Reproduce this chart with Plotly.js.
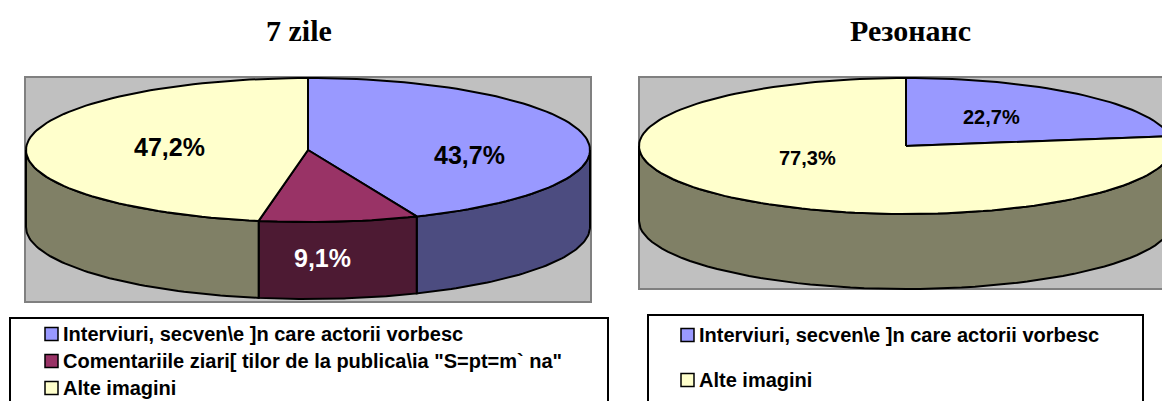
<!DOCTYPE html>
<html>
<head>
<meta charset="utf-8">
<script src="https://cdn.plot.ly/plotly-3.0.1.min.js"></script>
<style>html,body{margin:0;padding:0;background:#fff;}</style>
</head>
<body>
<div id="chart" style="width:1162px;height:401px;"></div>
<script>
// ---- data ----
const title7 = "7 zile";
const categories7 = ["Interviuri, secven\\e ]n care actorii vorbesc", "Comentariile ziari[ tilor de la publica\\ia \"S=pt=m` na\"", "Alte imagini"];
const values7 = [43.7, 9.1, 47.2];
const titleRez = "Резонанс";
const categoriesRez = ["Interviuri, secven\\e ]n care actorii vorbesc", "Alte imagini"];
const valuesRez = [22.7, 77.3];

// ---- styles ----
const topColors = {
  "Interviuri, secven\\e ]n care actorii vorbesc": "#9999FF",
  "Comentariile ziari[ tilor de la publica\\ia \"S=pt=m` na\"": "#993366",
  "Alte imagini": "#FFFFCC"
};
const sideColors = {
  "Interviuri, secven\\e ]n care actorii vorbesc": "#4C4C80",
  "Comentariile ziari[ tilor de la publica\\ia \"S=pt=m` na\"": "#4D1A33",
  "Alte imagini": "#808066"
};

const pies = [
  {title: title7, cats: categories7, vals: values7, cx: 308, cy: 150, rx: 282, ry: 72, depth: 77,
   bg: [25, 77, 591, 302], titleX: 299, labelSize: 25, labelOff: [[9, 13], [-16, -2], [16, 0]],
   legBox: [10, 318, 608, 420], legSw: 45, legY0: 334, legDy: 27},
  {title: titleRez, cats: categoriesRez, vals: valuesRez, cx: 906, cy: 146, rx: 267, ry: 68, depth: 75,
   bg: [639, 77, 1175, 289], titleX: 910, labelSize: 20, labelOff: [[-11, -1], [-2, -16]],
   legBox: [648, 315, 1143, 420], legSw: 681, legY0: 335, legDy: 45}
];

const traces = [];
const shapes = [];
const annotations = [];
const deg = Math.PI / 180;

function pt(p, a, dy) { return [p.cx + p.rx * Math.sin(a * deg), p.cy - p.ry * Math.cos(a * deg) + (dy || 0)]; }

pies.forEach(p => {
  const total = p.vals.reduce((s, v) => s + v, 0);
  let a = 0;
  const slices = p.vals.map((v, i) => { const a0 = a; a += v / total * 360; return {a0, a1: a, v, cat: p.cats[i]}; });

  // background panel
  shapes.push({type: 'rect', xref: 'x', yref: 'y', x0: p.bg[0], y0: p.bg[1], x1: p.bg[2], y1: p.bg[3],
    fillcolor: '#C0C0C0', line: {color: '#808080', width: 2}, layer: 'below'});

  // side walls (front half 90..270)
  slices.forEach(s => {
    const s0 = Math.max(s.a0, 90), s1 = Math.min(s.a1, 270);
    if (s1 <= s0) return;
    const xs = [], ys = [];
    const n = 60;
    for (let k = 0; k <= n; k++) { const q = pt(p, s0 + (s1 - s0) * k / n); xs.push(q[0]); ys.push(q[1]); }
    for (let k = n; k >= 0; k--) { const q = pt(p, s0 + (s1 - s0) * k / n, p.depth); xs.push(q[0]); ys.push(q[1]); }
    xs.push(xs[0]); ys.push(ys[0]);
    traces.push({type: 'scatter', mode: 'lines', x: xs, y: ys, fill: 'toself', fillcolor: sideColors[s.cat],
      line: {color: '#000', width: 2}, hoverinfo: 'skip', showlegend: false});
  });

  // top faces
  slices.forEach(s => {
    const xs = [p.cx], ys = [p.cy];
    const n = Math.max(8, Math.ceil((s.a1 - s.a0) / 2));
    for (let k = 0; k <= n; k++) { const q = pt(p, s.a0 + (s.a1 - s.a0) * k / n); xs.push(q[0]); ys.push(q[1]); }
    xs.push(p.cx); ys.push(p.cy);
    traces.push({type: 'scatter', mode: 'lines', x: xs, y: ys, fill: 'toself', fillcolor: topColors[s.cat],
      line: {color: '#000', width: 2}, hoverinfo: 'skip', showlegend: false, name: s.cat});
  });

  // labels
  slices.forEach((s, i) => {
    const mid = (s.a0 + s.a1) / 2;
    const txt = s.v.toFixed(1).replace('.', ',') + '%';
    let x, y, col = '#000';
    if ((s.a1 - s.a0) < 60 && mid > 90 && mid < 270) {
      const q = pt(p, mid, p.depth / 2); x = q[0]; y = q[1]; col = '#FFFFFF';
    } else {
      x = p.cx + p.rx * 0.55 * Math.sin(mid * deg);
      y = p.cy - p.ry * 0.55 * Math.cos(mid * deg);
    }
    const off = p.labelOff[i] || [0, 0];
    annotations.push({xref: 'x', yref: 'y', x: x + off[0], y: y + off[1], text: '<b>' + txt + '</b>', showarrow: false,
      xanchor: 'center', yanchor: 'middle', font: {family: 'Liberation Sans, Arial, sans-serif', size: p.labelSize, color: col}});
  });

  // title
  annotations.push({xref: 'x', yref: 'y', x: p.titleX, y: 30, text: '<b>' + p.title + '</b>', showarrow: false,
    xanchor: 'center', yanchor: 'middle', font: {family: 'Liberation Serif, Times New Roman, serif', size: 30, color: '#000'}});

  // legend box
  shapes.push({type: 'rect', xref: 'x', yref: 'y', x0: p.legBox[0], y0: p.legBox[1], x1: p.legBox[2], y1: p.legBox[3],
    fillcolor: '#FFFFFF', line: {color: '#000', width: 2}});
  p.cats.forEach((c, i) => {
    const yy = p.legY0 + i * p.legDy;
    shapes.push({type: 'rect', xref: 'x', yref: 'y', x0: p.legSw, y0: yy - 6.5, x1: p.legSw + 13, y1: yy + 6.5,
      fillcolor: topColors[c], line: {color: '#000', width: 1.5}});
    annotations.push({xref: 'x', yref: 'y', x: p.legSw + 16, y: yy, text: '<b>' + c + '</b>', showarrow: false,
      xanchor: 'left', yanchor: 'middle', font: {family: 'Liberation Sans, Arial, sans-serif', size: 20, color: '#000'}});
  });
});

const layout = {
  width: 1162, height: 401,
  margin: {l: 0, r: 0, t: 0, b: 0},
  paper_bgcolor: '#FFFFFF', plot_bgcolor: '#FFFFFF',
  showlegend: false,
  xaxis: {range: [0, 1162], visible: false, fixedrange: true},
  yaxis: {range: [401, 0], visible: false, fixedrange: true},
  shapes: shapes,
  annotations: annotations
};

Plotly.newPlot('chart', traces, layout, {displayModeBar: false, staticPlot: true});
</script>
</body>
</html>
